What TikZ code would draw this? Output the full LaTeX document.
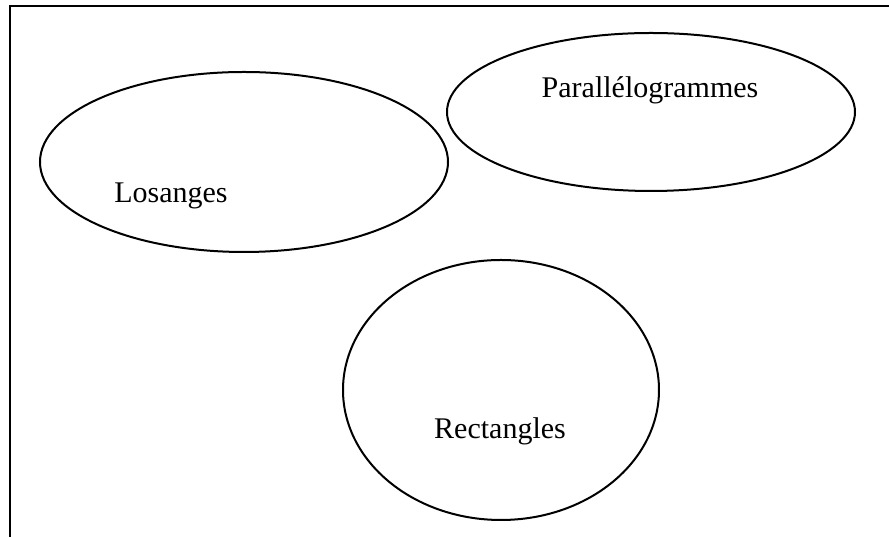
\documentclass[tikz,border=0pt]{standalone}
\usepackage{fontspec}
\setmainfont{Liberation Serif}
\usetikzlibrary{calc}

\begin{document}
\begin{tikzpicture}[x=0.4pt,y=-0.4pt,
    setline/.style={line width=0.8pt},
    setname/.style={anchor=base,inner sep=0,font=\fontsize{12}{14}\selectfont}]

  \useasboundingbox (0,0) rectangle (889,537);

  % frame
  \coordinate (framebl) at (10,537);
  \coordinate (frametl) at (10,6);
  \coordinate (frametr) at (889,6);
  \draw[line width=0.9pt] (framebl) -- (frametl) -- (frametr);

  % sets
  \draw[setline] (244,162) ellipse [x radius=204, y radius=90];
  \draw[setline] (651,112) ellipse [x radius=204, y radius=79];
  \draw[setline] (501,390) ellipse [x radius=158, y radius=130];

  \node[setname] (losanges) at (171,203) {Losanges};
  \node[setname] (paral) at (650,98) {Parallélogrammes};
  \node[setname] (rect) at (500,439) {Rectangles};
\end{tikzpicture}
\end{document}
